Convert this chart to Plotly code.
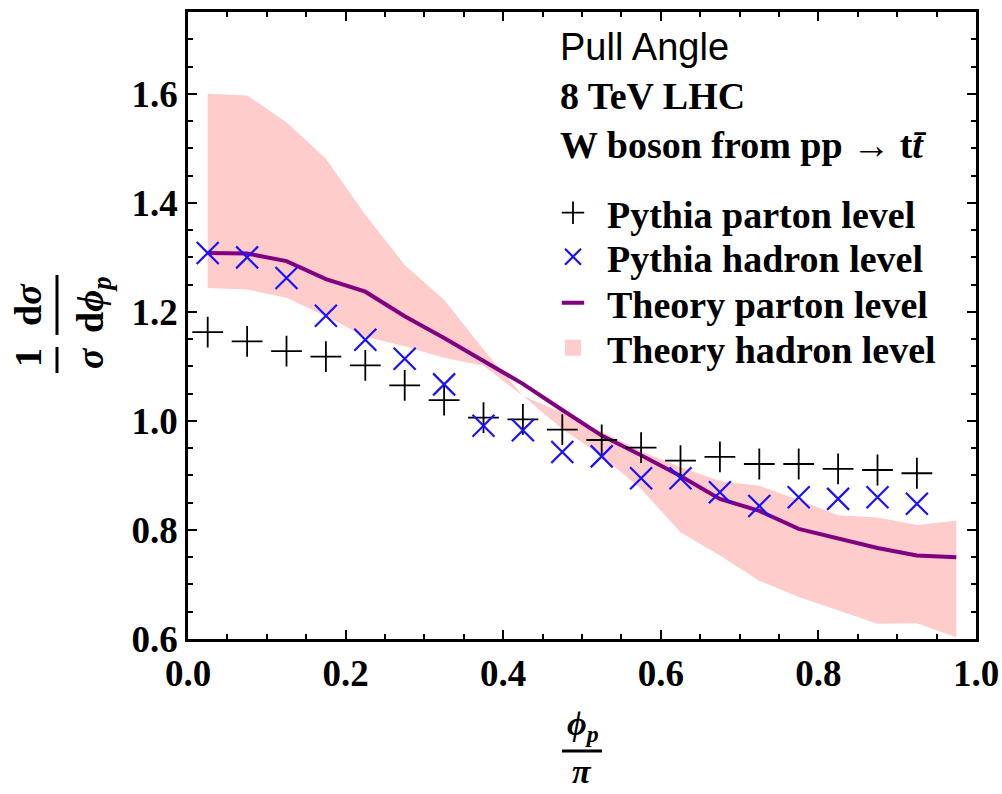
import plotly.graph_objects as go

# ---------------- data ----------------
x_points = [0.025, 0.075, 0.125, 0.175, 0.225, 0.275, 0.325, 0.375, 0.425, 0.475,
            0.525, 0.575, 0.625, 0.675, 0.725, 0.775, 0.825, 0.875, 0.925]
pythia_parton = [1.163, 1.146, 1.128, 1.118, 1.102, 1.065, 1.038, 1.006, 1.003, 0.984,
                 0.965, 0.951, 0.927, 0.934, 0.921, 0.921, 0.912, 0.910, 0.904]
pythia_hadron = [1.308, 1.300, 1.262, 1.193, 1.149, 1.114, 1.067, 0.991, 0.983, 0.943,
                 0.935, 0.895, 0.895, 0.869, 0.844, 0.860, 0.857, 0.860, 0.848]

x_theory = [0.025, 0.075, 0.125, 0.175, 0.225, 0.275, 0.325, 0.375, 0.425, 0.475,
            0.525, 0.575, 0.625, 0.675, 0.725, 0.775, 0.825, 0.875, 0.925, 0.975]
theory_parton = [1.308, 1.307, 1.293, 1.260, 1.237, 1.192, 1.152, 1.110, 1.068, 1.020,
                 0.973, 0.937, 0.899, 0.857, 0.835, 0.802, 0.784, 0.767, 0.753, 0.750]
hadron_upper = [1.600, 1.597, 1.548, 1.481, 1.378, 1.286, 1.222, 1.131, 1.046, 1.015,
                0.980, 0.945, 0.915, 0.890, 0.881, 0.855, 0.827, 0.823, 0.809, 0.817]
hadron_lower = [1.244, 1.241, 1.226, 1.192, 1.155, 1.137, 1.116, 1.101, 1.046, 0.985,
                0.936, 0.875, 0.796, 0.753, 0.707, 0.677, 0.652, 0.628, 0.629, 0.603]

header_lines = ["Pull Angle", "8 TeV LHC", "W boson from pp \u2192 t<i>t\u0304</i>"]
legend_names = ["Pythia parton level", "Pythia hadron level",
                "Theory parton level", "Theory hadron level"]

# ---------------- styling ----------------
W, H = 1002, 794
L, R, T, B = 188, 26, 12, 155
PW, PH = W - L - R, H - T - B
SERIF = "Liberation Serif"
SANS = "Liberation Sans"
FS = 38
PURPLE = "#800080"
PINK = "#ffcccc"
BLUE = "#1a10ff"
PHI = "\u03d5"


def px(xp):
    return (xp - L) / PW


def py(yp):
    return (H - B - yp) / PH


fig = go.Figure()

# band
fig.add_trace(go.Scatter(
    x=x_theory + x_theory[::-1], y=hadron_upper + hadron_lower[::-1],
    fill="toself", fillcolor=PINK, line=dict(width=0), mode="lines",
    showlegend=False, hoverinfo="skip"))
# theory parton line
fig.add_trace(go.Scatter(
    x=x_theory, y=theory_parton, mode="lines",
    line=dict(color=PURPLE, width=4), showlegend=False))
# pythia parton
fig.add_trace(go.Scatter(
    x=x_points, y=pythia_parton, mode="markers", name=legend_names[0],
    marker=dict(symbol="cross-thin", size=22, line=dict(color="black", width=1.8)),
    legend="legend"))
# pythia hadron
fig.add_trace(go.Scatter(
    x=x_points, y=pythia_hadron, mode="markers", name=legend_names[1],
    marker=dict(symbol="x-thin", size=22, line=dict(color=BLUE, width=2.2)),
    legend="legend2"))
# legend proxies
fig.add_trace(go.Scatter(
    x=[None], y=[None], mode="markers", name=legend_names[2],
    marker=dict(symbol="line-ew", size=16, line=dict(color=PURPLE, width=4)),
    legend="legend3"))
fig.add_trace(go.Scatter(
    x=[None], y=[None], mode="markers", name=legend_names[3],
    marker=dict(symbol="square", size=16, color=PINK, line=dict(width=0)),
    legend="legend4"))

tickfont = dict(family=SERIF, size=37, color="black", weight="bold")
axis_common = dict(
    showline=True, linecolor="black", linewidth=2.5, mirror="allticks",
    ticks="inside", ticklen=9, tickwidth=2, tickcolor="black",
    showgrid=False, zeroline=False, tickfont=tickfont, tickformat=".1f",
    automargin=False,
    minor=dict(ticks="inside", ticklen=5, tickwidth=2, tickcolor="black",
               dtick=0.05, showgrid=False),
)
fig.update_xaxes(range=[0, 1], dtick=0.2, tick0=0, **axis_common)
fig.update_yaxes(range=[0.6, 1.75], dtick=0.2, tick0=0.6, **axis_common)

legend_rows = [213, 257, 303, 348]
legends = {}
for i, yp in enumerate(legend_rows):
    key = "legend" if i == 0 else f"legend{i + 1}"
    legends[key] = dict(
        x=px(539), y=py(yp), xanchor="left", yanchor="middle",
        bgcolor="rgba(0,0,0,0)", borderwidth=0, itemwidth=58,
        font=dict(family=SERIF, size=FS, color="black", weight="bold"),
    )

annotations = []
head_rows = [47, 96, 145]
for i, (txt, yp) in enumerate(zip(header_lines, head_rows)):
    if i == 0:
        font = dict(family=SANS, size=FS, color="black")
    else:
        font = dict(family=SERIF, size=FS, color="black", weight="bold")
    annotations.append(dict(
        text=txt, x=px(558), y=py(yp), xref="paper", yref="paper",
        xanchor="left", yanchor="middle", showarrow=False, font=font))

lab_font = dict(family=SERIF, size=FS, color="black", weight="bold")
# y-axis title: (1/sigma) (d sigma / d phi_p), rotated
for txt, xp, yp in [("1", 28, 358), ("<i>σ</i>", 90, 358),
                    ("d<i>σ</i>", 28, 305), ("d<i>" + PHI + "</i><sub><i>p</i></sub>", 93, 305)]:
    annotations.append(dict(
        text=txt, x=px(xp), y=py(yp), xref="paper", yref="paper",
        xanchor="center", yanchor="middle", showarrow=False, textangle=-90,
        font=lab_font))
# x-axis title: phi_p / pi
for txt, xp, yp in [("<i>" + PHI + "</i><sub><i>p</i></sub>", 583, 726), ("<i>π</i>", 582, 771)]:
    annotations.append(dict(
        text=txt, x=px(xp), y=py(yp), xref="paper", yref="paper",
        xanchor="center", yanchor="middle", showarrow=False,
        font=dict(family=SERIF, size=34, color="black", weight="bold")))

shapes = [
    dict(type="line", xref="paper", yref="paper", x0=px(57), x1=px(57),
         y0=py(347), y1=py(373), line=dict(color="black", width=3)),
    dict(type="line", xref="paper", yref="paper", x0=px(57), x1=px(57),
         y0=py(275), y1=py(335), line=dict(color="black", width=3)),
    dict(type="line", xref="paper", yref="paper", x0=px(562), x1=px(602),
         y0=py(751), y1=py(751), line=dict(color="black", width=3)),
]

fig.update_layout(
    width=W, height=H, margin=dict(l=L, r=R, t=T, b=B, pad=0),
    paper_bgcolor="white", plot_bgcolor="white",
    annotations=annotations, shapes=shapes, **legends,
)

fig.write_html("out.html")
